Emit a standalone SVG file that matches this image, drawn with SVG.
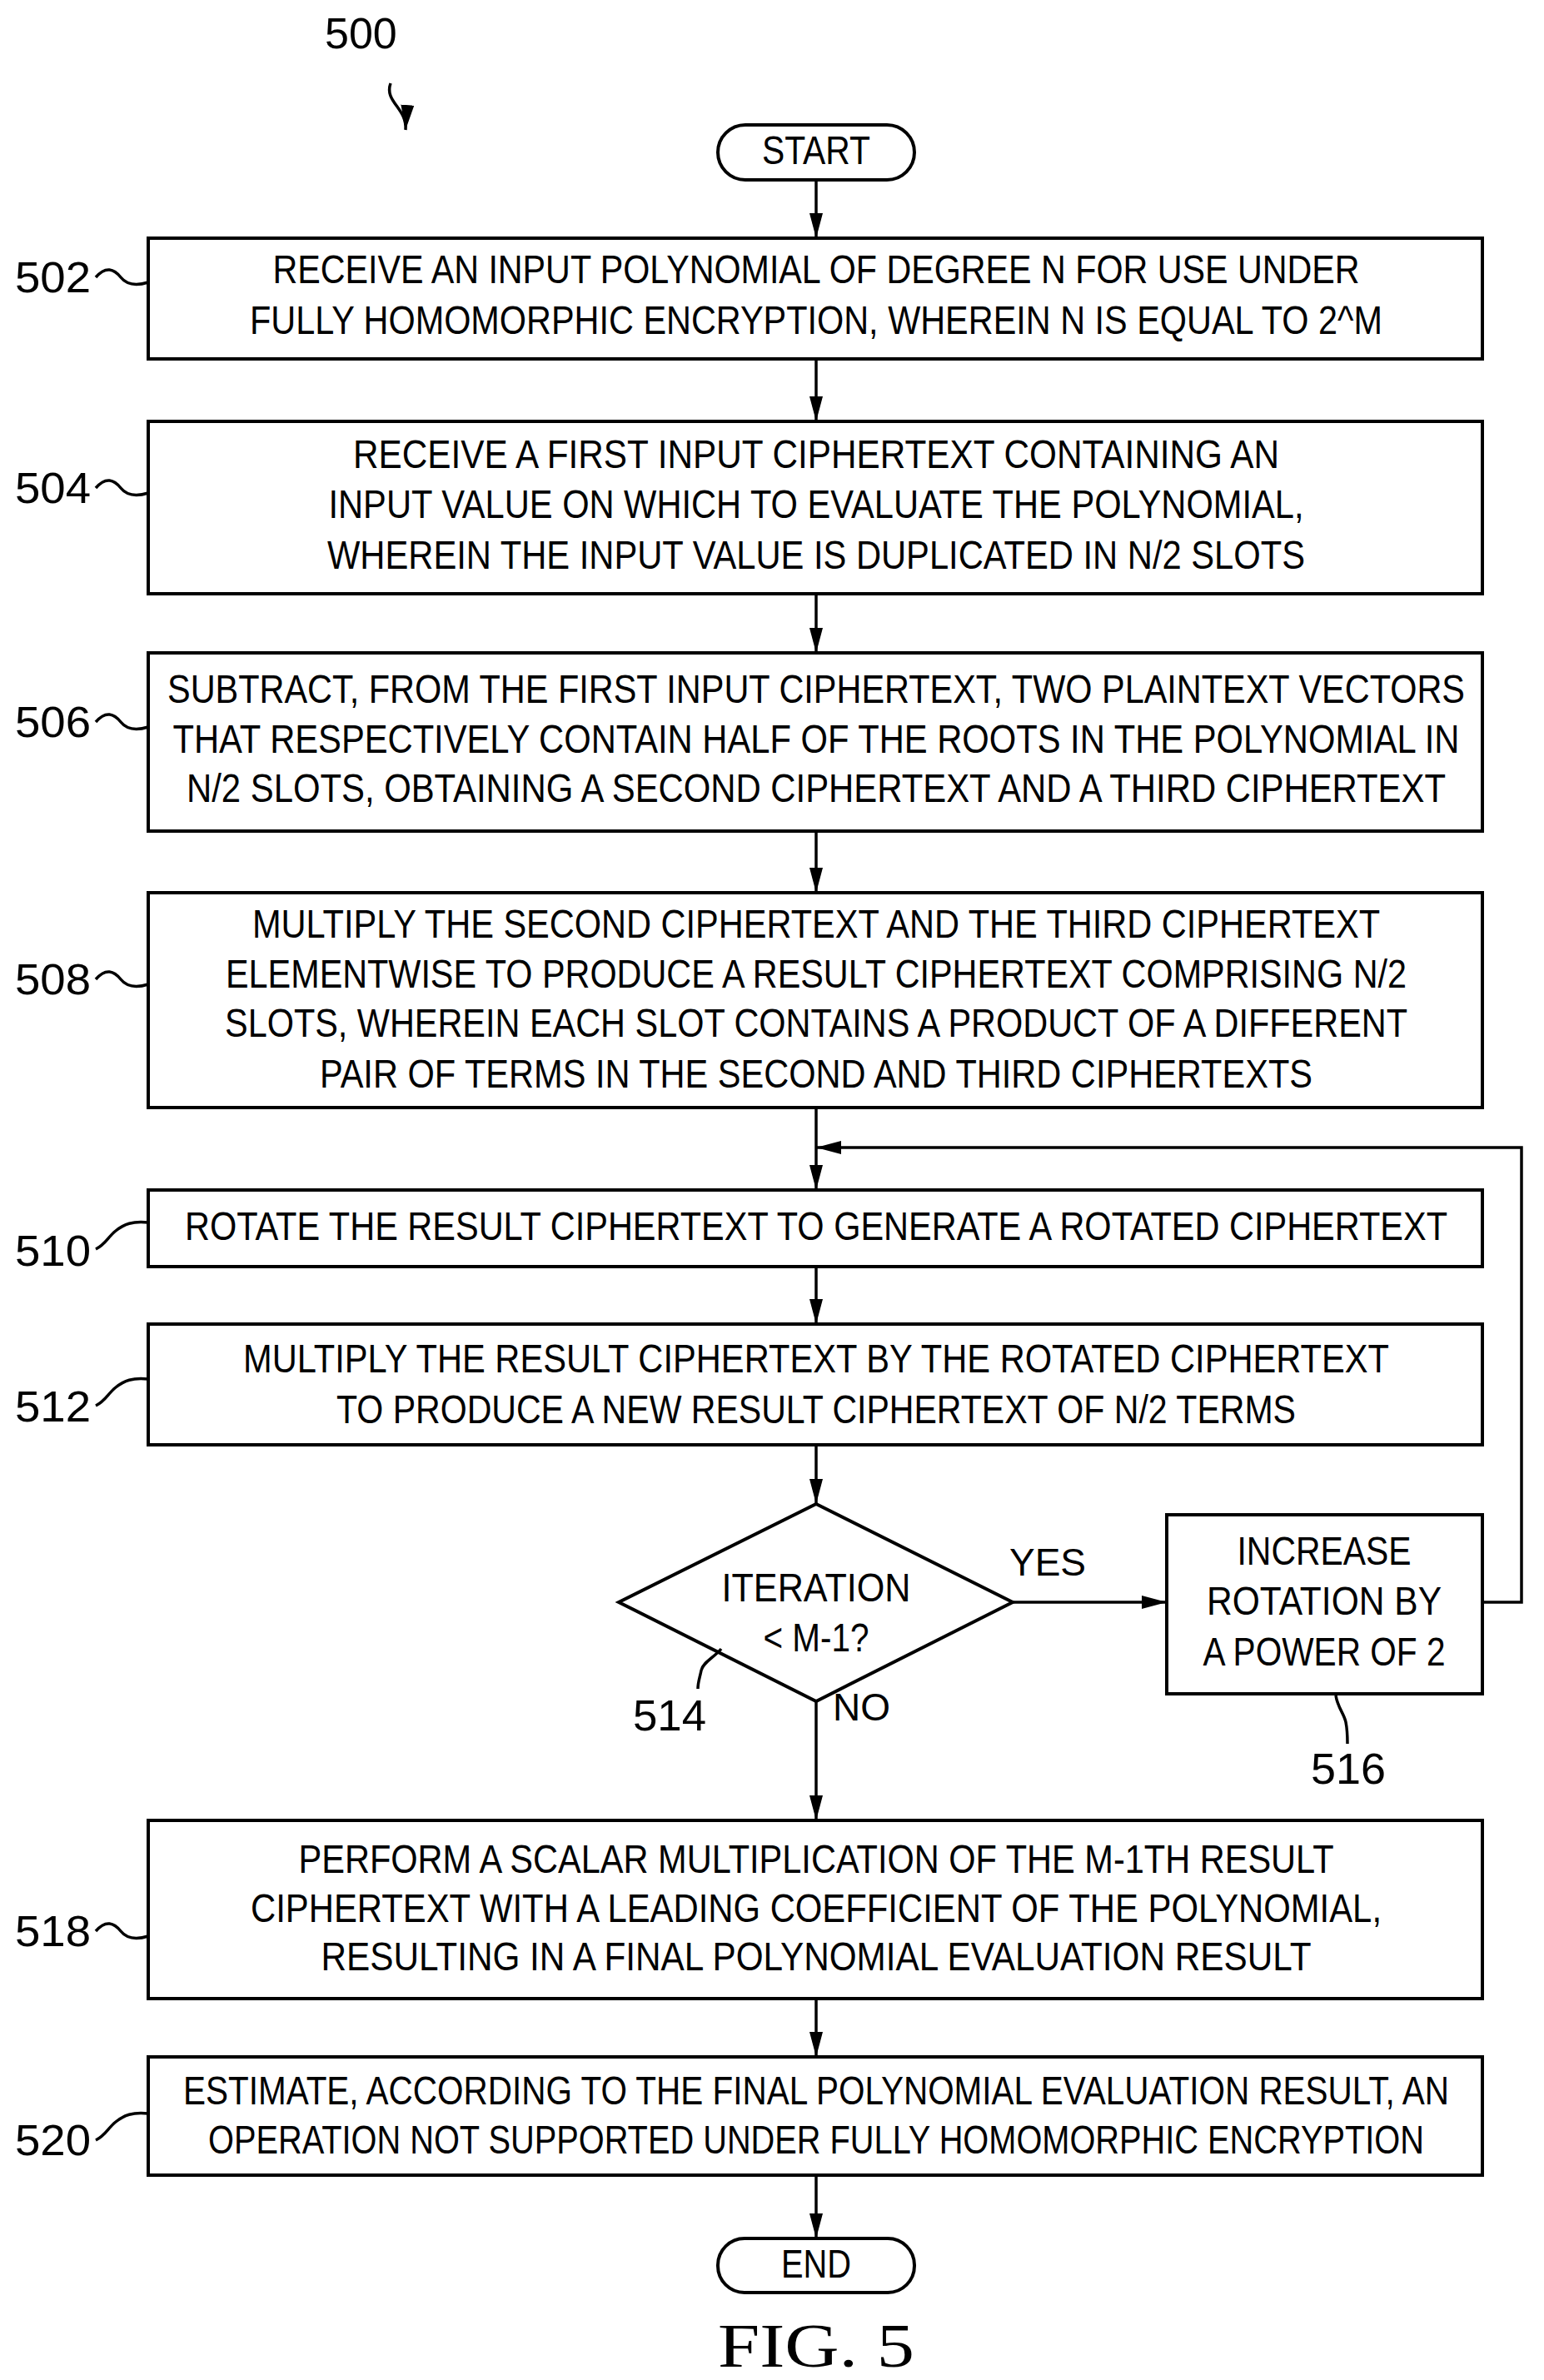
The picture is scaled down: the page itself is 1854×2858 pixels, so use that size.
<svg xmlns="http://www.w3.org/2000/svg" width="1854" height="2858" viewBox="0 0 1854 2858">
<style>
.b{fill:#fff;stroke:#000;stroke-width:4}
.t{font-family:"Liberation Sans",Arial,sans-serif;font-size:48px;text-anchor:middle;fill:#000}
.l{font-family:"Liberation Sans",Arial,sans-serif;font-size:52px;fill:#000}
.c{fill:none;stroke:#000;stroke-width:3.5}
</style>
<defs>
<marker id="ah" markerWidth="30" markerHeight="16" refX="30" refY="8" orient="auto" markerUnits="userSpaceOnUse" viewBox="0 0 30 16"><path d="M0,0L30,8L0,16z" fill="#000"/></marker></defs>
<rect width="1854" height="2858" fill="#fff"/>
<g id="connectors">
<path class="c" d="M980,216V286" marker-end="url(#ah)"/>
<path class="c" d="M980,431V506" marker-end="url(#ah)"/>
<path class="c" d="M980,713V784" marker-end="url(#ah)"/>
<path class="c" d="M980,998V1072" marker-end="url(#ah)"/>
<path class="c" d="M980,1330V1429" marker-end="url(#ah)"/>
<path class="c" d="M980,1521V1590" marker-end="url(#ah)"/>
<path class="c" d="M980,1735V1806" marker-end="url(#ah)"/>
<path class="c" d="M980,2043V2186" marker-end="url(#ah)"/>
<path class="c" d="M980,2400V2470" marker-end="url(#ah)"/>
<path class="c" d="M980,2612V2688" marker-end="url(#ah)"/>
<path class="c" d="M1216,1924H1401" marker-end="url(#ah)"/>
<path class="c" d="M1780,1924H1827V1378H980" marker-end="url(#ah)"/>
<text class="l" x="1212" y="1892" style="font-size:46px">YES</text>
<text class="l" x="1000" y="2066" style="font-size:46px">NO</text>
</g>
<g id="n500"><text class="l" x="390" y="58">500</text><path class="c" d="M469,100c-8,22 20,30 18,56" marker-end="url(#ah)"/></g>
<g id="start"><rect class="b" x="862" y="150" width="236" height="66" rx="33"/><text class="t" x="980" y="197" textLength="130" lengthAdjust="spacingAndGlyphs">START</text></g>
<g id="n502"><rect class="b" x="178" y="286" width="1602" height="145"/>
<text class="t" x="980" y="340" textLength="1305" lengthAdjust="spacingAndGlyphs">RECEIVE AN INPUT POLYNOMIAL OF DEGREE N FOR USE UNDER</text>
<text class="t" x="980" y="401" textLength="1360" lengthAdjust="spacingAndGlyphs">FULLY HOMOMORPHIC ENCRYPTION, WHEREIN N IS EQUAL TO 2^M</text>
<text class="l" x="18" y="351" textLength="91" lengthAdjust="spacingAndGlyphs">502</text><path class="c" d="M115,333c12,-14 22,-10 30,0s20,10 33,6"/></g>
<g id="n504"><rect class="b" x="178" y="506" width="1602" height="207"/>
<text class="t" x="980" y="562" textLength="1112" lengthAdjust="spacingAndGlyphs">RECEIVE A FIRST INPUT CIPHERTEXT CONTAINING AN</text>
<text class="t" x="980" y="622" textLength="1171" lengthAdjust="spacingAndGlyphs">INPUT VALUE ON WHICH TO EVALUATE THE POLYNOMIAL,</text>
<text class="t" x="980" y="683" textLength="1174" lengthAdjust="spacingAndGlyphs">WHEREIN THE INPUT VALUE IS DUPLICATED IN N/2 SLOTS</text>
<text class="l" x="18" y="604" textLength="91" lengthAdjust="spacingAndGlyphs">504</text><path class="c" d="M115,586c12,-14 22,-10 30,0s20,10 33,6"/></g>
<g id="n506"><rect class="b" x="178" y="784" width="1602" height="214"/>
<text class="t" x="980" y="844" textLength="1558" lengthAdjust="spacingAndGlyphs">SUBTRACT, FROM THE FIRST INPUT CIPHERTEXT, TWO PLAINTEXT VECTORS</text>
<text class="t" x="980" y="904" textLength="1545" lengthAdjust="spacingAndGlyphs">THAT RESPECTIVELY CONTAIN HALF OF THE ROOTS IN THE POLYNOMIAL IN</text>
<text class="t" x="980" y="963" textLength="1512" lengthAdjust="spacingAndGlyphs">N/2 SLOTS, OBTAINING A SECOND CIPHERTEXT AND A THIRD CIPHERTEXT</text>
<text class="l" x="18" y="885" textLength="91" lengthAdjust="spacingAndGlyphs">506</text><path class="c" d="M115,867c12,-14 22,-10 30,0s20,10 33,6"/></g>
<g id="n508"><rect class="b" x="178" y="1072" width="1602" height="258"/>
<text class="t" x="980" y="1126" textLength="1354" lengthAdjust="spacingAndGlyphs">MULTIPLY THE SECOND CIPHERTEXT AND THE THIRD CIPHERTEXT</text>
<text class="t" x="980" y="1186" textLength="1418" lengthAdjust="spacingAndGlyphs">ELEMENTWISE TO PRODUCE A RESULT CIPHERTEXT COMPRISING N/2</text>
<text class="t" x="980" y="1245" textLength="1420" lengthAdjust="spacingAndGlyphs">SLOTS, WHEREIN EACH SLOT CONTAINS A PRODUCT OF A DIFFERENT</text>
<text class="t" x="980" y="1306" textLength="1192" lengthAdjust="spacingAndGlyphs">PAIR OF TERMS IN THE SECOND AND THIRD CIPHERTEXTS</text>
<text class="l" x="18" y="1194" textLength="91" lengthAdjust="spacingAndGlyphs">508</text><path class="c" d="M115,1176c12,-14 22,-10 30,0s20,10 33,6"/></g>
<g id="n510"><rect class="b" x="178" y="1429" width="1602" height="92"/>
<text class="t" x="980" y="1489" textLength="1516" lengthAdjust="spacingAndGlyphs">ROTATE THE RESULT CIPHERTEXT TO GENERATE A ROTATED CIPHERTEXT</text>
<text class="l" x="18" y="1520" textLength="91" lengthAdjust="spacingAndGlyphs">510</text><path class="c" d="M115,1500c12,-6 14,-14 24,-22s20,-12 39,-10"/></g>
<g id="n512"><rect class="b" x="178" y="1590" width="1602" height="145"/>
<text class="t" x="980" y="1648" textLength="1376" lengthAdjust="spacingAndGlyphs">MULTIPLY THE RESULT CIPHERTEXT BY THE ROTATED CIPHERTEXT</text>
<text class="t" x="980" y="1709" textLength="1152" lengthAdjust="spacingAndGlyphs">TO PRODUCE A NEW RESULT CIPHERTEXT OF N/2 TERMS</text>
<text class="l" x="18" y="1707" textLength="91" lengthAdjust="spacingAndGlyphs">512</text><path class="c" d="M115,1688c12,-6 14,-14 24,-22s20,-12 39,-10"/></g>
<g id="n514"><path class="b" d="M980,1806L1216,1924L980,2043L743,1924Z"/>
<text class="t" x="980" y="1923" textLength="227" lengthAdjust="spacingAndGlyphs">ITERATION</text>
<text class="t" x="980" y="1983" textLength="127" lengthAdjust="spacingAndGlyphs">&lt; M-1?</text>
<text class="l" x="760" y="2078" textLength="88" lengthAdjust="spacingAndGlyphs">514</text><path class="c" d="M866,1980c-8,10 -22,16 -24,26s-4,14 -4,22"/></g>
<g id="n516"><rect class="b" x="1401" y="1819" width="379" height="215"/>
<text class="t" x="1590" y="1879" textLength="209" lengthAdjust="spacingAndGlyphs">INCREASE</text>
<text class="t" x="1590" y="1939" textLength="282" lengthAdjust="spacingAndGlyphs">ROTATION BY</text>
<text class="t" x="1590" y="2000" textLength="291" lengthAdjust="spacingAndGlyphs">A POWER OF 2</text>
<text class="l" x="1574" y="2142" textLength="90" lengthAdjust="spacingAndGlyphs">516</text><path class="c" d="M1604,2036c2,14 10,22 12,32s2,16 2,26"/></g>
<g id="n518"><rect class="b" x="178" y="2186" width="1602" height="214"/>
<text class="t" x="980" y="2249" textLength="1243" lengthAdjust="spacingAndGlyphs">PERFORM A SCALAR MULTIPLICATION OF THE M-1TH RESULT</text>
<text class="t" x="980" y="2308" textLength="1358" lengthAdjust="spacingAndGlyphs">CIPHERTEXT WITH A LEADING COEFFICIENT OF THE POLYNOMIAL,</text>
<text class="t" x="980" y="2366" textLength="1189" lengthAdjust="spacingAndGlyphs">RESULTING IN A FINAL POLYNOMIAL EVALUATION RESULT</text>
<text class="l" x="18" y="2337" textLength="91" lengthAdjust="spacingAndGlyphs">518</text><path class="c" d="M115,2319c12,-14 22,-10 30,0s20,10 33,6"/></g>
<g id="n520"><rect class="b" x="178" y="2470" width="1602" height="142"/>
<text class="t" x="980" y="2527" textLength="1520" lengthAdjust="spacingAndGlyphs">ESTIMATE, ACCORDING TO THE FINAL POLYNOMIAL EVALUATION RESULT, AN</text>
<text class="t" x="980" y="2586" textLength="1460" lengthAdjust="spacingAndGlyphs">OPERATION NOT SUPPORTED UNDER FULLY HOMOMORPHIC ENCRYPTION</text>
<text class="l" x="18" y="2588" textLength="91" lengthAdjust="spacingAndGlyphs">520</text><path class="c" d="M115,2570c12,-6 14,-14 24,-22s20,-12 39,-10"/></g>
<g id="end"><rect class="b" x="862" y="2688" width="236" height="65" rx="32"/><text class="t" x="980" y="2735" textLength="84" lengthAdjust="spacingAndGlyphs">END</text></g>
<text x="980" y="2842" text-anchor="middle" font-family="Liberation Serif,serif" font-size="74" textLength="236" lengthAdjust="spacingAndGlyphs">FIG. 5</text>
</svg>
